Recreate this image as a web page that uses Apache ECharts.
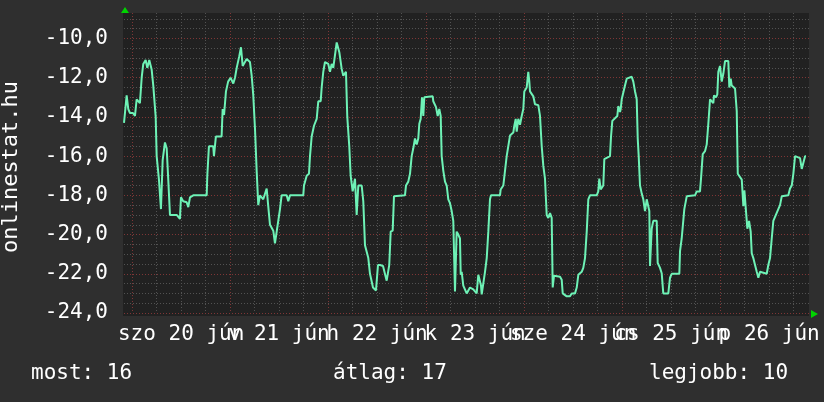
<!DOCTYPE html>
<html>
<head>
<meta charset="utf-8">
<script src="https://cdn.jsdelivr.net/npm/echarts@6/dist/echarts.min.js"></script>
<style>
  html, body { margin: 0; padding: 0; background: #2f2f2f; }
  #chart { width: 824px; height: 402px; }
</style>
</head>
<body>
<div id="chart"></div>
<script>
/* ================================
   DATA (hours from midnight jún 20, rank)
================================ */
const dayLabels = ["szo 20 jún", "v 21 jún", "h 22 jún", "k 23 jún", "sze 24 jún", "cs 25 jún", "p 26 jún"];
const summaryNames  = ["most", "átlag", "legjobb"];
const summaryValues = [16, 17, 10];
const axisTitle = "onlinestat.hu";

const rankPoints = [
  [-2.0, -14.3], [-1.35, -12.9], [-0.95, -13.6], [-0.54, -13.8], [0.2, -13.8], [0.69, -13.95],
  [1.1, -13.1], [1.9, -13.3], [2.33, -12.0], [2.72, -11.3], [3.3, -11.1], [3.7, -11.5],
  [4.19, -11.1], [4.78, -11.6], [5.17, -12.4], [5.76, -14.0], [6.0, -16.0], [6.56, -17.2],
  [7.05, -18.7], [7.47, -16.2], [8.03, -15.3], [8.45, -15.6], [8.84, -17.2], [9.26, -19.0],
  [10.9, -19.0], [11.7, -19.2], [11.95, -18.1], [12.5, -18.3], [13.35, -18.35], [13.74, -18.6],
  [14.16, -18.1], [14.96, -18.0], [18.25, -18.0], [18.4, -17.0], [18.8, -15.5], [19.86, -15.5],
  [20.03, -16.0], [20.5, -15.0], [21.9, -15.0], [22.16, -13.6], [22.5, -13.9], [22.97, -12.7],
  [23.5, -12.2], [24.1, -12.0], [24.76, -12.3], [25.18, -12.0], [25.6, -11.5], [26.23, -10.9],
  [26.65, -10.45], [27.06, -11.4], [28.04, -11.05], [28.85, -11.2], [29.27, -11.9], [29.66, -12.9],
  [30.08, -14.6], [30.5, -16.8], [30.88, -18.5], [31.3, -18.0], [32.1, -18.2], [32.94, -17.65],
  [33.3, -18.5], [33.75, -19.5], [34.56, -19.8], [34.97, -20.45], [35.39, -19.85], [35.78, -19.85],
  [36.2, -18.7], [36.6, -18.0], [37.84, -18.0], [38.23, -18.3], [38.65, -18.0], [41.9, -18.0],
  [42.08, -17.5], [42.74, -17.0], [43.3, -16.9], [43.55, -16.0], [43.96, -15.0], [44.53, -14.45],
  [45.19, -14.1], [45.58, -13.2], [46.17, -13.2], [46.41, -12.5], [46.8, -11.7], [47.22, -11.2],
  [48.03, -11.3], [48.44, -11.7], [48.86, -11.3], [49.25, -11.5], [49.67, -11.4], [50.09, -10.2],
  [50.48, -10.2], [50.73, -10.7], [51.31, -11.55], [51.7, -11.9], [52.36, -11.7], [52.68, -14.0],
  [53.17, -15.5], [53.51, -17.0], [54.0, -17.8], [54.57, -17.15], [54.98, -19.0], [55.38, -17.5],
  [56.21, -17.5], [56.6, -18.3], [57.02, -20.55], [57.83, -21.2], [58.24, -22.0], [58.98, -22.7],
  [59.71, -22.85], [60.2, -21.55], [60.69, -21.55], [61.43, -21.6], [62.33, -22.35], [62.72, -22.3],
  [62.96, -21.55], [63.31, -19.85], [63.8, -19.8], [64.12, -18.05], [66.81, -18.0], [67.06, -17.5],
  [67.62, -17.3], [68.04, -16.9], [68.45, -16.0], [68.85, -15.6], [69.26, -15.1], [69.68, -15.4],
  [70.07, -15.1], [70.32, -14.35], [70.66, -14.1], [70.98, -13.0], [71.3, -13.95], [71.54, -13.0],
  [71.96, -12.9], [73.6, -12.95], [73.74, -13.2], [74.41, -13.5], [74.82, -13.95], [75.21, -13.6],
  [75.56, -13.95], [75.8, -16.0], [76.2, -16.75], [76.61, -17.3], [77.03, -17.5], [77.42, -18.2],
  [77.83, -18.4], [78.25, -18.8], [78.64, -19.3], [79.06, -22.9], [79.47, -19.85], [79.87, -20.0],
  [80.28, -20.2], [80.46, -22.05], [80.7, -21.9], [81.09, -22.6], [81.51, -22.7], [81.92, -23.0],
  [82.31, -23.0], [82.73, -22.7], [83.54, -22.8], [84.37, -23.0], [84.77, -22.05], [85.18, -21.97],
  [85.43, -22.6], [85.6, -23.05], [86.0, -23.0], [86.41, -21.9], [86.83, -21.2], [87.22, -19.85],
  [87.63, -18.2], [87.88, -18.0], [90.08, -18.0], [90.25, -17.7], [90.89, -17.5], [91.3, -17.45],
  [91.72, -16.0], [92.12, -15.9], [92.53, -14.95], [93.34, -14.8], [93.59, -14.45], [93.93, -14.1],
  [94.17, -14.75], [94.56, -14.1], [94.98, -14.4], [95.4, -13.95], [95.79, -13.6], [96.03, -12.7],
  [96.62, -12.5], [97.01, -11.7], [97.26, -12.2], [97.43, -12.7], [98.24, -12.95], [98.65, -13.35],
  [99.46, -13.4], [99.88, -13.95], [100.3, -15.5], [100.69, -16.5], [101.1, -17.15], [101.52, -19.0],
  [101.91, -19.15], [102.33, -18.9], [102.74, -19.15], [102.99, -22.7], [103.31, -22.1], [104.78, -22.15],
  [105.19, -22.3], [105.44, -23.0], [106.42, -23.15], [107.22, -23.15], [107.64, -23.0], [108.45, -23.0],
  [108.87, -22.7], [109.26, -22.05], [110.09, -21.9], [110.48, -21.7], [110.9, -21.2], [111.32, -19.85],
  [111.71, -18.2], [112.12, -18.0], [113.76, -18.0], [114.15, -17.8], [114.4, -17.15], [114.74, -17.7],
  [114.99, -17.8], [115.38, -17.5], [115.63, -16.15], [117.02, -16.0], [117.27, -15.0], [117.59, -14.2],
  [118.81, -13.95], [119.06, -13.45], [119.47, -13.75], [119.64, -13.6], [119.89, -13.1], [120.28, -13.0],
  [120.69, -12.4], [121.11, -12.05], [122.34, -11.95], [122.73, -12.2], [123.15, -12.7], [123.56, -13.1],
  [123.81, -15.1], [124.05, -16.0], [124.37, -17.5], [124.78, -17.9], [125.18, -18.2], [125.59, -18.8],
  [126.01, -18.2], [126.4, -18.2], [126.65, -18.8], [126.82, -21.6], [127.23, -19.7], [127.62, -19.3],
  [128.46, -19.3], [128.7, -21.45], [129.27, -21.7], [129.68, -21.97], [130.07, -23.0], [130.49, -23.1],
  [131.3, -23.0], [131.72, -22.2], [132.14, -22.0], [134.0, -22.0], [134.17, -20.85], [134.58, -20.2],
  [134.97, -20.2], [135.22, -18.7], [135.81, -18.05], [137.84, -18.0], [138.26, -17.8], [139.06, -17.8],
  [139.31, -17.15], [139.73, -15.9], [140.29, -15.75], [140.71, -15.4], [141.1, -14.35], [141.52, -13.1],
  [141.94, -13.0], [142.32, -13.3], [142.49, -12.9], [142.98, -13.0], [143.3, -12.85], [143.55, -11.7],
  [143.96, -11.4], [144.38, -12.2], [144.77, -11.8], [145.19, -11.15], [145.99, -11.15], [146.24, -12.5],
  [146.58, -12.05], [146.83, -12.4], [147.64, -12.55], [148.06, -13.7], [148.31, -16.9], [149.29, -17.2],
  [149.68, -18.55], [149.93, -17.75], [150.34, -17.75], [150.66, -19.7], [151.07, -19.3], [151.48, -19.85],
  [151.73, -20.95], [152.12, -21.2], [152.54, -21.55], [152.96, -21.9], [153.35, -22.2], [153.76, -21.9],
  [155.4, -22.0], [155.79, -21.55], [156.21, -21.2], [156.63, -20.2], [157.02, -19.3], [157.44, -19.3],
  [158.24, -18.7], [158.66, -18.5], [159.08, -18.05], [160.69, -18.0], [161.11, -17.65], [161.53, -17.5],
  [161.92, -16.9], [162.34, -16.0], [163.56, -16.1], [163.98, -16.65], [164.37, -16.65], [164.79, -16.0],
  [165.03, -16.0]
];

/* ================================
   AXIS SETUP
================================ */
const X_MIN = -2, X_MAX = 166;
const Y_MIN = -24, Y_MAX = -8.7;
const hourCats = [];
for (let h = X_MIN; h <= X_MAX; h++) hourCats.push(String(h));

const FONT = "DejaVu Sans Mono";
const dotted = [1, 2];

const hourOfDay = v => ((Number(v) % 24) + 24) % 24;
// day labels sit at noon; even days on one axis, odd days on the other so none get dropped
const isNoonOf = parity => (i, v) => hourOfDay(v) === 12 && ((Number(v) - 12) / 24) % 2 === parity;
const dayLabel = v => dayLabels[(Number(v) - 12) / 24] || "";
const labelStyle = { color: "#ffffff", fontFamily: FONT, fontSize: 21, margin: 11, hideOverlap: false };

const chart = echarts.init(document.getElementById("chart"));

chart.setOption({
  animation: false,
  backgroundColor: "#2f2f2f",
  grid: { left: 124, top: 13, width: 686, height: 300, containLabel: false },
  xAxis: [
    {
      // major (day) grid + even day labels
      type: "category", data: hourCats, boundaryGap: false, position: "bottom", z: 1,
      axisLine: { show: false }, axisTick: { show: false },
      axisLabel: Object.assign({ interval: isNoonOf(0), formatter: dayLabel }, labelStyle),
      splitLine: {
        show: true,
        interval: (i, v) => hourOfDay(v) === 0,
        lineStyle: { color: "#7e3636", type: dotted, width: 1 }
      }
    },
    {
      // minor (6h) grid + odd day labels, moved down to the bottom edge
      type: "category", data: hourCats, boundaryGap: false, position: "top", offset: -300,
      axisLine: { show: false }, axisTick: { show: false },
      axisLabel: Object.assign({ interval: isNoonOf(1), formatter: dayLabel, inside: true }, labelStyle),
      splitLine: {
        show: true,
        interval: (i, v) => { const h = hourOfDay(v); return h % 6 === 0 && h !== 0; },
        lineStyle: { color: "#525252", type: dotted, width: 1 }
      }
    },
    { type: "value", min: X_MIN, max: X_MAX, show: false }
  ],
  yAxis: [
    {
      type: "value", min: Y_MIN, max: Y_MAX, interval: 2, position: "left", z: 1,
      axisLine: { show: false }, axisTick: { show: false },
      axisLabel: {
        color: "#ffffff", fontFamily: FONT, fontSize: 21, margin: 16, padding: [4, 0, 0, 0],
        formatter: v => (Math.abs(v % 2) < 1e-6 ? v.toFixed(1).replace(".", ",") : "")
      },
      splitLine: { show: true, showMaxLine: false, lineStyle: { color: "#7e3636", type: dotted, width: 1 } }
    },
    {
      type: "value", min: Y_MIN, max: Y_MAX, interval: 0.5, position: "right",
      axisLine: { show: false }, axisTick: { show: false }, axisLabel: { show: false },
      splitLine: { show: true, showMaxLine: false, lineStyle: { color: "#525252", type: dotted, width: 1 } }
    }
  ],
  series: [{
    type: "line",
    xAxisIndex: 2,
    yAxisIndex: 0,
    data: rankPoints,
    showSymbol: false,
    z: 5,
    lineStyle: { color: "#6ef2b6", width: 2 }
  }],
  graphic: [
    { type: "rect", z: -10, silent: true, shape: { x: 123, y: 13, width: 686, height: 303 }, style: { fill: "#212121" } },
    { type: "polygon", z: 10, shape: { points: [[121, 13], [129, 13], [125, 7]] }, style: { fill: "#00d400" } },
    { type: "polygon", z: 10, shape: { points: [[811, 310], [811, 318], [818, 314]] }, style: { fill: "#00d400" } },
    {
      type: "text", z: 10, x: 11, y: 167, rotation: Math.PI / 2,
      style: { text: axisTitle, fill: "#ffffff", font: "22px " + FONT, align: "center", verticalAlign: "middle" }
    },
    {
      type: "text", z: 10, x: 31, y: 374,
      style: { text: summaryNames[0] + ": " + summaryValues[0], fill: "#ffffff", font: "21px " + FONT, align: "left", verticalAlign: "middle" }
    },
    {
      type: "text", z: 10, x: 333, y: 374,
      style: { text: summaryNames[1] + ": " + summaryValues[1], fill: "#ffffff", font: "21px " + FONT, align: "left", verticalAlign: "middle" }
    },
    {
      type: "text", z: 10, x: 649, y: 374,
      style: { text: summaryNames[2] + ": " + summaryValues[2], fill: "#ffffff", font: "21px " + FONT, align: "left", verticalAlign: "middle" }
    }
  ]
});
</script>
</body>
</html>
